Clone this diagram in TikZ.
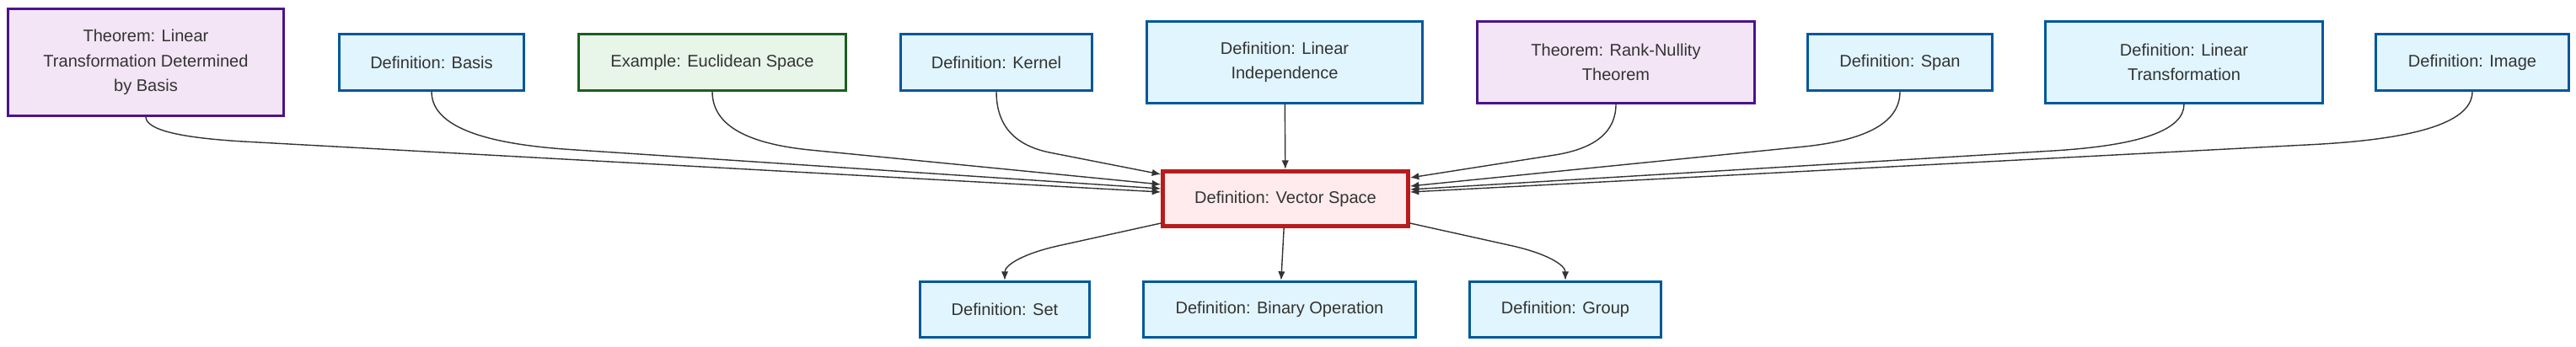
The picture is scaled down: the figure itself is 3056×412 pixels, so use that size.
\documentclass[tikz,border=0pt]{standalone}
\usepackage{fontspec}
\setmainfont{Liberation Sans}
\usetikzlibrary{calc,arrows.meta}
\definecolor{defFill}{HTML}{E1F5FE}
\definecolor{defLine}{HTML}{01579B}
\definecolor{thmFill}{HTML}{F3E5F5}
\definecolor{thmLine}{HTML}{4A148C}
\definecolor{exFill}{HTML}{E8F5E9}
\definecolor{exLine}{HTML}{1B5E20}
\definecolor{vsFill}{HTML}{FFEBEE}
\definecolor{vsLine}{HTML}{B71C1C}
\definecolor{edgeCol}{HTML}{333333}

\begin{document}
\begin{tikzpicture}[x=0.02cm,y=-0.02cm,
    nodebox/.style={rectangle,draw,line width=1.6pt,align=center,text=edgeCol,
      inner sep=0pt,minimum height=1.33cm,font=\fontsize{11.4}{16.8}\selectfont},
    defn/.style={nodebox,fill=defFill,draw=defLine},
    thm/.style={nodebox,fill=thmFill,draw=thmLine},
    exmp/.style={nodebox,fill=exFill,draw=exLine},
    vsbox/.style={nodebox,fill=vsFill,draw=vsLine,line width=2.6pt},
    edge/.style={draw=edgeCol,line width=0.8pt,-{Latex[length=6pt,width=4.8pt]}}]
  \useasboundingbox (0,0) rectangle (3056,412); % page size

  % top row
  \node[thm,minimum width=6.54cm,minimum height=2.53cm] (thmLT) at (173,74) {Theorem: Linear\\Transformation Determined\\by Basis};
  \node[defn,minimum width=4.37cm] (basis) at (512,74) {Definition: Basis};
  \node[exmp,minimum width=6.33cm] (euclid) at (845,74) {Example: Euclidean Space};
  \node[defn,minimum width=4.53cm] (kernel) at (1182,74) {Definition: Kernel};
  \node[defn,minimum width=6.53cm,minimum height=1.93cm] (linInd) at (1524,74) {Definition: Linear\\Independence};
  \node[thm,minimum width=6.57cm,minimum height=1.93cm] (rankNul) at (1917,74) {Theorem: Rank-Nullity\\Theorem};
  \node[defn,minimum width=4.37cm] (span) at (2254,74) {Definition: Span};
  \node[defn,minimum width=6.57cm,minimum height=1.93cm] (linTr) at (2591,74) {Definition: Linear\\Transformation};
  \node[defn,minimum width=4.57cm] (image) at (2933,74) {Definition: Image};

  % centre
  \node[vsbox,minimum width=5.82cm,minimum height=1.31cm] (vs) at (1525,236) {Definition: Vector Space};

  % bottom row
  \node[defn,minimum width=4.01cm] (set) at (1192,367.5) {Definition: Set};
  \node[defn,minimum width=6.45cm] (binop) at (1518,367.5) {Definition: Binary Operation};
  \node[defn,minimum width=4.55cm] (group) at (1857,367.5) {Definition: Group};

  % into the vector space: drop, side, offset, bend
  \foreach \src/\drop/\side/\off/\bend in {thmLT/23/west/-8/0.1, basis/58/west/-12/0.19,
      euclid/58/west/-17/0.22, kernel/60/west/-29/0.33, rankNul/49/east/-25/0.3,
      span/54/east/-15/0.2, linTr/46/east/-11/0.17, image/53/east/-8/0.15}{
    \coordinate (knee) at ($(\src.south)+(0,\drop)$);
    \coordinate (tip) at ($(vs.\side)+(0,\off)$);
    \coordinate (bendEnd) at ($(knee)!\bend!(tip)$);
    \draw[edge] (\src.south) .. controls ($(\src.south)!0.67!(knee)$) and ($(bendEnd)!0.67!(knee)$) .. (bendEnd) -- (tip);
  }
  \draw[edge] (linInd) -- (vs);

  % out of the vector space
  \foreach \dst/\side in {set/west, group/east}{
    \coordinate (knee) at ($(\dst.north)+(0,-27)$);
    \coordinate (foot) at ($(vs.\side)+(0,29)$);
    \coordinate (bendEnd) at ($(knee)!0.35!(foot)$);
    \draw[edge] (foot) -- (bendEnd) .. controls ($(bendEnd)!0.67!(knee)$) and ($(\dst.north)!0.67!(knee)$) .. (\dst.north);
  }
  \draw[edge] (vs) -- (binop);
\end{tikzpicture}
\end{document}
